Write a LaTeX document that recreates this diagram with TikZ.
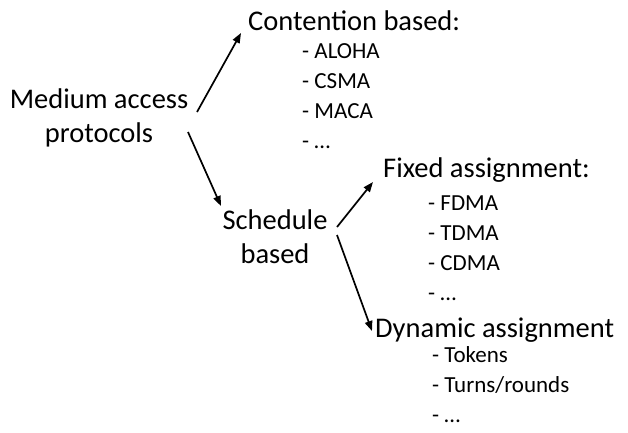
\documentclass[tikz,border=0pt]{standalone}
\usepackage{fontspec}
\setmainfont{Carlito}
\usetikzlibrary{arrows.meta}
\begin{document}
\begin{tikzpicture}[x=1pt,y=-1pt,
  big/.style={inner sep=0pt,font=\fontsize{28.5}{34}\selectfont},
  head/.style={inner sep=0pt,anchor=base west,font=\fontsize{28.5}{34}\selectfont},
  lst/.style={inner sep=0pt,anchor=base west,align=left,font=\fontsize{23}{29.7}\selectfont},
  arr/.style={line width=1.7pt,-{Triangle[length=10pt,width=7.5pt]}}]
\useasboundingbox[fill=white] (0,0) rectangle (628,432);
\node[big,align=center,anchor=base] (mac) at (99,142) {Medium access\\protocols};
\node[head] (cb) at (248,30) {Contention based:};
\node[lst] (cbl) at (302,148) {- ALOHA\\- CSMA\\- MACA\\- \dots};
\node[big,align=center,anchor=base] (sb) at (275,263) {Schedule\\based};
\node[head] (fa) at (383,177) {Fixed assignment:};
\node[lst] (fal) at (428,300) {- FDMA\\- TDMA\\- CDMA\\- \dots};
\node[head] (da) at (375,337) {Dynamic assignment};
\node[lst] (dal) at (432,422) {- Tokens\\- Turns/rounds\\- \dots};
\coordinate (a1s) at (197,112); \coordinate (a1e) at (241,33);
\coordinate (a2s) at (188,132); \coordinate (a2e) at (221,206);
\coordinate (a3s) at (337,227); \coordinate (a3e) at (373,182);
\coordinate (a4s) at (337,235); \coordinate (a4e) at (372,331);
\draw[arr] (a1s) -- (a1e);
\draw[arr] (a2s) -- (a2e);
\draw[arr] (a3s) -- (a3e);
\draw[arr] (a4s) -- (a4e);
\end{tikzpicture}
\end{document}
